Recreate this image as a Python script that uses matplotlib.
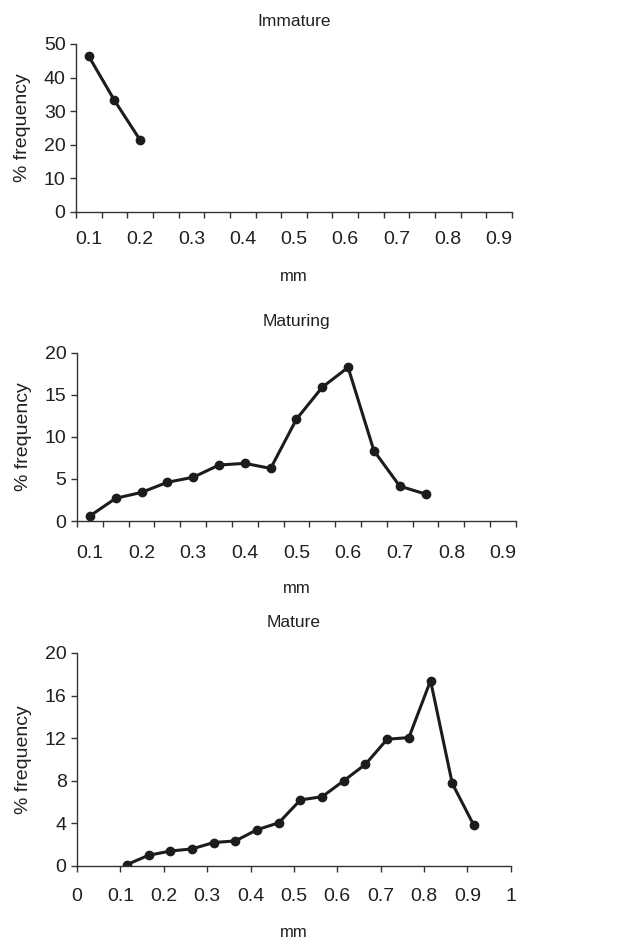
import matplotlib
matplotlib.use("Agg")
import matplotlib.pyplot as plt
import numpy as np

plt.rcParams['font.family'] = ['Liberation Sans', 'DejaVu Sans']

# Category axis (panels 1 and 2)
categories = ["0.1", "0.15", "0.2", "0.25", "0.3", "0.35", "0.4", "0.45", "0.5",
              "0.55", "0.6", "0.65", "0.7", "0.75", "0.8", "0.85", "0.9"]

immature_values = [46.3, 33.2, 21.4]

maturing_values = [0.6, 2.7, 3.4, 4.6, 5.2, 6.65, 6.85, 6.25, 12.1, 15.9, 18.25,
                   8.35, 4.15, 3.2]

mature_x = [0.115, 0.165, 0.215, 0.265, 0.315, 0.365, 0.415, 0.465, 0.515, 0.565,
            0.615, 0.665, 0.715, 0.765, 0.815, 0.865, 0.915]
mature_values = [0.13, 1.0, 1.4, 1.6, 2.2, 2.35, 3.4, 4.05, 6.2, 6.5, 8.0, 9.55,
                 11.9, 12.05, 17.4, 7.75, 3.8]

mature_xticks = [0, 0.1, 0.2, 0.3, 0.4, 0.5, 0.6, 0.7, 0.8, 0.9, 1.0]
mature_xticklabels = ["0", "0.1", "0.2", "0.3", "0.4", "0.5", "0.6", "0.7", "0.8", "0.9", "1"]

TXT = '#231f20'
LINE = '#1c1c1c'
TICKSIZE = 14

fig = plt.figure(figsize=(6.37, 9.43), dpi=100)

def style(ax, xpad):
    for s in ['top', 'right']:
        ax.spines[s].set_visible(False)
    for s in ['left', 'bottom']:
        ax.spines[s].set_color('#333333')
        ax.spines[s].set_linewidth(1.0)
    ax.tick_params(axis='both', direction='out', length=4, width=1.0,
                   colors='#333333', labelcolor=TXT, labelsize=TICKSIZE)
    ax.set_ylabel('% frequency', fontsize=14, color=TXT, labelpad=9)
    ax.set_xlabel('mm', fontsize=12, color=TXT, labelpad=xpad)

def category_panel(rect, title, values, ymax, ystep, tpad, lpad, xpad):
    ax = fig.add_axes(rect)
    idx = np.arange(len(values))
    ax.plot(idx, values, color=LINE, lw=2.2, marker='o', ms=6, mfc=LINE, mec=LINE)
    n = len(categories)
    ax.set_xlim(-0.5, n - 0.5)
    ax.set_ylim(0, ymax)
    ax.set_xticks(np.arange(-0.5, n, 1.0))
    ax.set_xticklabels([])
    ax.set_xticks(np.arange(0, n, 2), minor=True)
    ax.set_xticklabels([categories[i] for i in range(0, n, 2)], minor=True)
    ax.set_yticks(np.arange(0, ymax + 0.1, ystep))
    style(ax, xpad)
    ax.tick_params(axis='x', which='minor', length=0, pad=lpad,
                   labelsize=TICKSIZE, labelcolor=TXT)
    ax.set_title(title, fontsize=12.5, color=TXT, pad=tpad)
    return ax

ax1 = category_panel([0.1193, 0.7752, 0.6845, 0.1782], 'Immature', immature_values,
                     50, 10, 13, 14, 15)
ax1.get_yticklines()[0].set_color('#e8d800')

ax2 = category_panel([0.1209, 0.4475, 0.689, 0.1785], 'Maturing', maturing_values,
                     20, 5, 19, 17, 14)

ax3 = fig.add_axes([0.1209, 0.0817, 0.681, 0.2259])
ax3.plot(mature_x, mature_values, color=LINE, lw=2.2, marker='o', ms=6, mfc=LINE, mec=LINE)
ax3.set_xlim(0, 1)
ax3.set_ylim(0, 20)
ax3.set_xticks(mature_xticks)
ax3.set_xticklabels(mature_xticklabels)
ax3.set_yticks(np.arange(0, 21, 4))
style(ax3, 14)
ax3.tick_params(axis='x', pad=12)
ax3.set_title('Mature', fontsize=12.5, color=TXT, pad=19)

fig.savefig('out.png', dpi=100)
